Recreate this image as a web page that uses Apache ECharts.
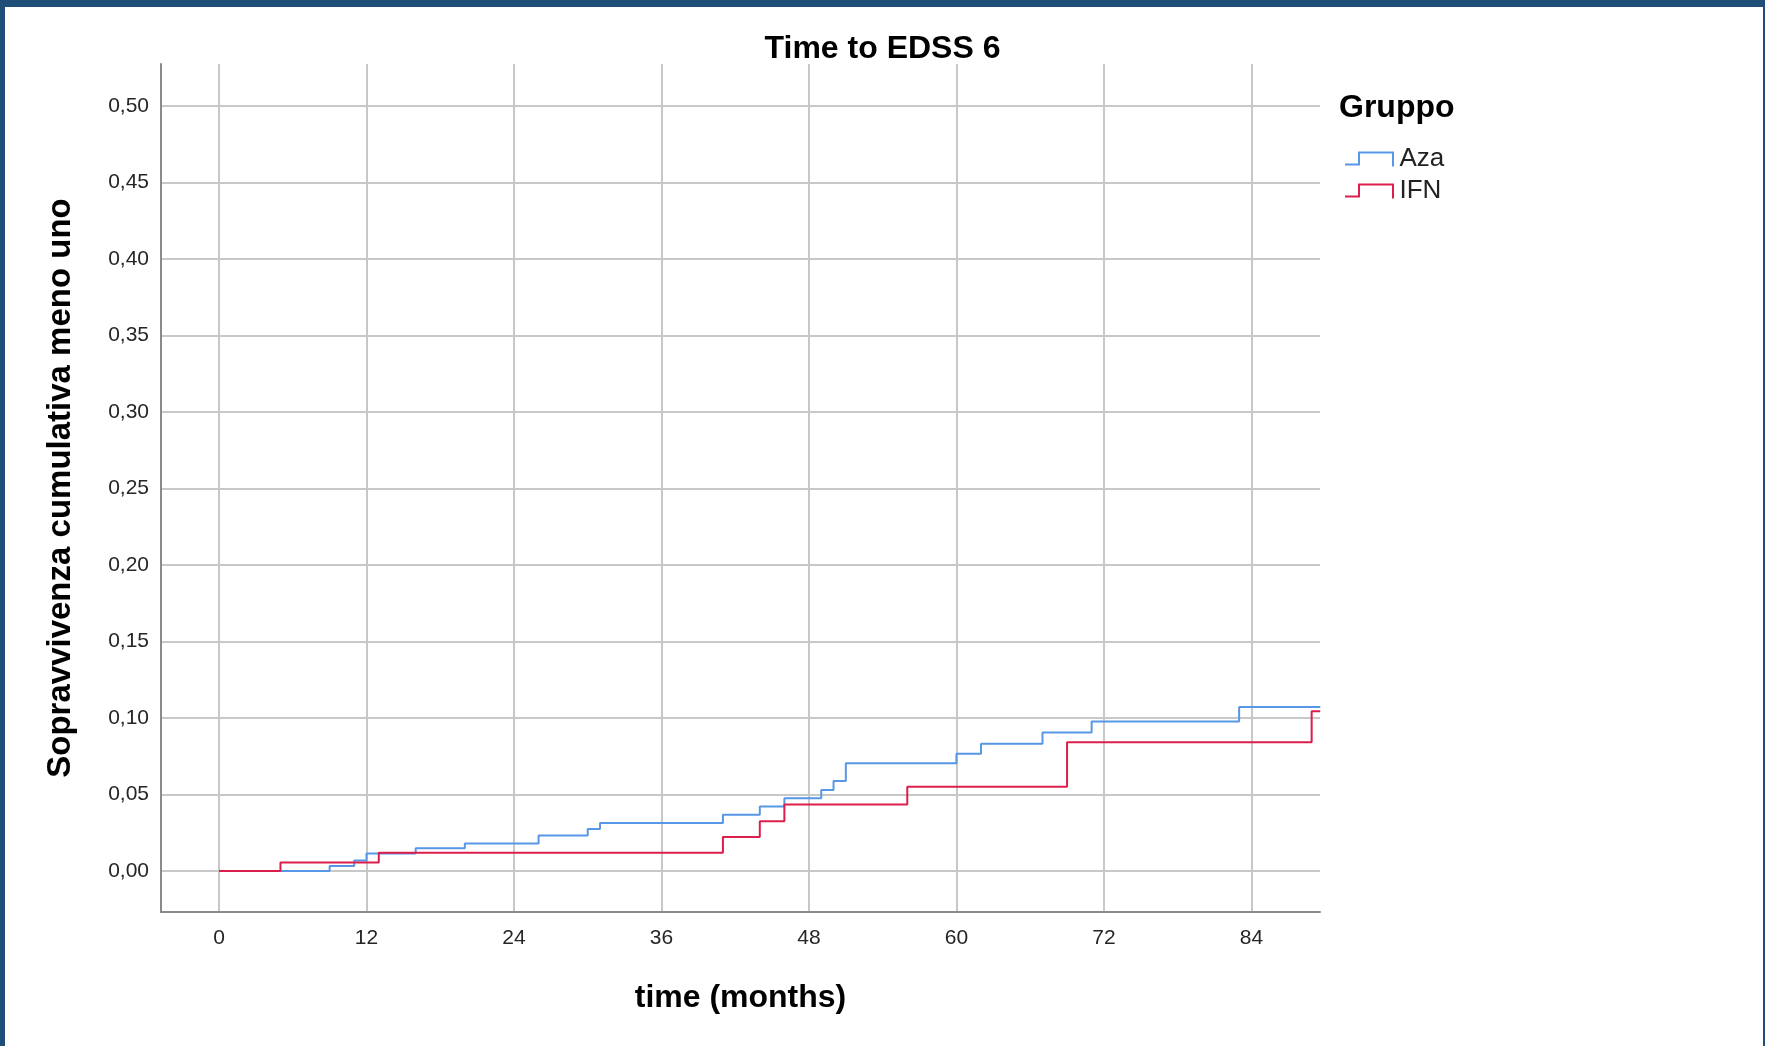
<!DOCTYPE html>
<html>
<head>
<meta charset="utf-8">
<title>Time to EDSS 6</title>
<script src="https://cdn.jsdelivr.net/npm/echarts@6/dist/echarts.min.js"></script>
<style>
  html, body { margin: 0; padding: 0; background: #ffffff; overflow: hidden; }
  #chart { position: absolute; left: 0; top: 0; width: 1765px; height: 1046px; }
  .edge { position: absolute; background: #1f4e79; pointer-events: none; }
</style>
</head>
<body>
<div id="chart"></div>
<div class="edge" style="left:0;top:0;width:1765px;height:7px;"></div>
<div class="edge" style="left:0;top:0;width:5px;height:1046px;"></div>
<div class="edge" style="left:1763px;top:0;width:2px;height:1046px;"></div>
<script>
// Kaplan-Meier cumulative incidence (1 - survival) of reaching EDSS 6
const groups = ['Aza', 'IFN'];

// Aza: event times (months) and cumulative incidence after each step
const azaTime = [0, 9, 11, 12, 16, 20, 26, 30, 31, 41, 44, 46, 49, 50, 51, 60, 62, 67, 71, 83, 89.6];
const azaCum  = [0, 0.0033, 0.0068, 0.0114, 0.0149, 0.0179, 0.0232, 0.0274, 0.0313, 0.0368, 0.0422,
                 0.0475, 0.0530, 0.0589, 0.0705, 0.0766, 0.0832, 0.0906, 0.0978, 0.1072, 0.1072];

// IFN: event times (months) and cumulative incidence after each step
const ifnTime = [0, 5, 13, 41, 44, 46, 56, 69, 88.9, 89.6];
const ifnCum  = [0, 0.0055, 0.0120, 0.0223, 0.0326, 0.0435, 0.0551, 0.0842, 0.1044, 0.1044];

// Axis tick values
const monthTicks = [0, 12, 24, 36, 48, 60, 72, 84];
const probTicks = [0, 0.05, 0.10, 0.15, 0.20, 0.25, 0.30, 0.35, 0.40, 0.45, 0.50];

const colors = { Aza: '#5797e6', IFN: '#dc1e4c' };
const FONT = '"Liberation Sans", Arial, sans-serif';

function pairs(xs, ys) {
  return xs.map((x, i) => [x, ys[i]]);
}

const chart = echarts.init(document.getElementById('chart'), null, { renderer: 'canvas' });

// Legend glyph: a small step drawn as a thin filled outline
const stepIcon = 'path://M0,12 L13,12 L13,0 L49,0 L49,15 L47,15 L47,2 L15,2 L15,14 L0,14 Z';

chart.setOption({
  backgroundColor: '#ffffff',
  animation: false,
  textStyle: { fontFamily: FONT },
  title: [
    {
      text: 'Time to EDSS 6',
      left: 'center',
      top: 28,
      textStyle: { fontFamily: FONT, fontSize: 32, fontWeight: 'bold', color: '#000' }
    },
    {
      text: 'Gruppo',
      left: 1334,
      top: 87,
      textStyle: { fontFamily: FONT, fontSize: 32, fontWeight: 'bold', color: '#000' }
    }
  ],
  legend: {
    orient: 'vertical',
    left: 1340,
    top: 141,
    itemWidth: 50,
    itemHeight: 15,
    itemGap: 6,
    icon: stepIcon,
    textStyle: { fontFamily: FONT, fontSize: 26, color: '#222' },
    data: groups
  },
  grid: { left: 161, right: 445, top: 64, bottom: 134, containLabel: false },
  xAxis: {
    type: 'value',
    min: -4.72,
    max: 89.58,
    name: 'time (months)',
    nameLocation: 'middle',
    nameGap: 70,
    nameTextStyle: { fontFamily: FONT, fontSize: 32, fontWeight: 'bold', color: '#000' },
    axisLine: { show: true, onZero: false, lineStyle: { color: '#8a8a8a', width: 2 } },
    axisTick: { show: false, customValues: monthTicks },
    axisLabel: { customValues: monthTicks, margin: 16, fontFamily: FONT, fontSize: 21, color: '#262626' },
    splitLine: { show: true, lineStyle: { color: '#c8c8c8', width: 2 } }
  },
  yAxis: {
    type: 'value',
    min: -0.0268,
    max: 0.5275,
    name: 'Sopravvivenza cumulativa meno uno',
    nameLocation: 'middle',
    nameGap: 84,
    nameTextStyle: { fontFamily: FONT, fontSize: 33, fontWeight: 'bold', color: '#000' },
    axisLine: { show: true, onZero: false, lineStyle: { color: '#8a8a8a', width: 2 } },
    axisTick: { show: false, customValues: probTicks },
    axisLabel: {
      customValues: probTicks,
      margin: 12,
      fontFamily: FONT,
      fontSize: 21,
      color: '#262626',
      formatter: v => v.toFixed(2).replace('.', ',')
    },
    splitLine: { show: true, lineStyle: { color: '#c8c8c8', width: 2 } }
  },
  series: [
    {
      name: 'Aza',
      type: 'line',
      step: 'end',
      symbol: 'none',
      color: colors.Aza,
      itemStyle: { color: colors.Aza },
      lineStyle: { width: 2, color: colors.Aza },
      data: pairs(azaTime, azaCum),
      z: 3
    },
    {
      name: 'IFN',
      type: 'line',
      step: 'end',
      symbol: 'none',
      color: colors.IFN,
      itemStyle: { color: colors.IFN },
      lineStyle: { width: 2, color: colors.IFN },
      data: pairs(ifnTime, ifnCum),
      z: 4
    }
  ]
});
</script>
</body>
</html>
